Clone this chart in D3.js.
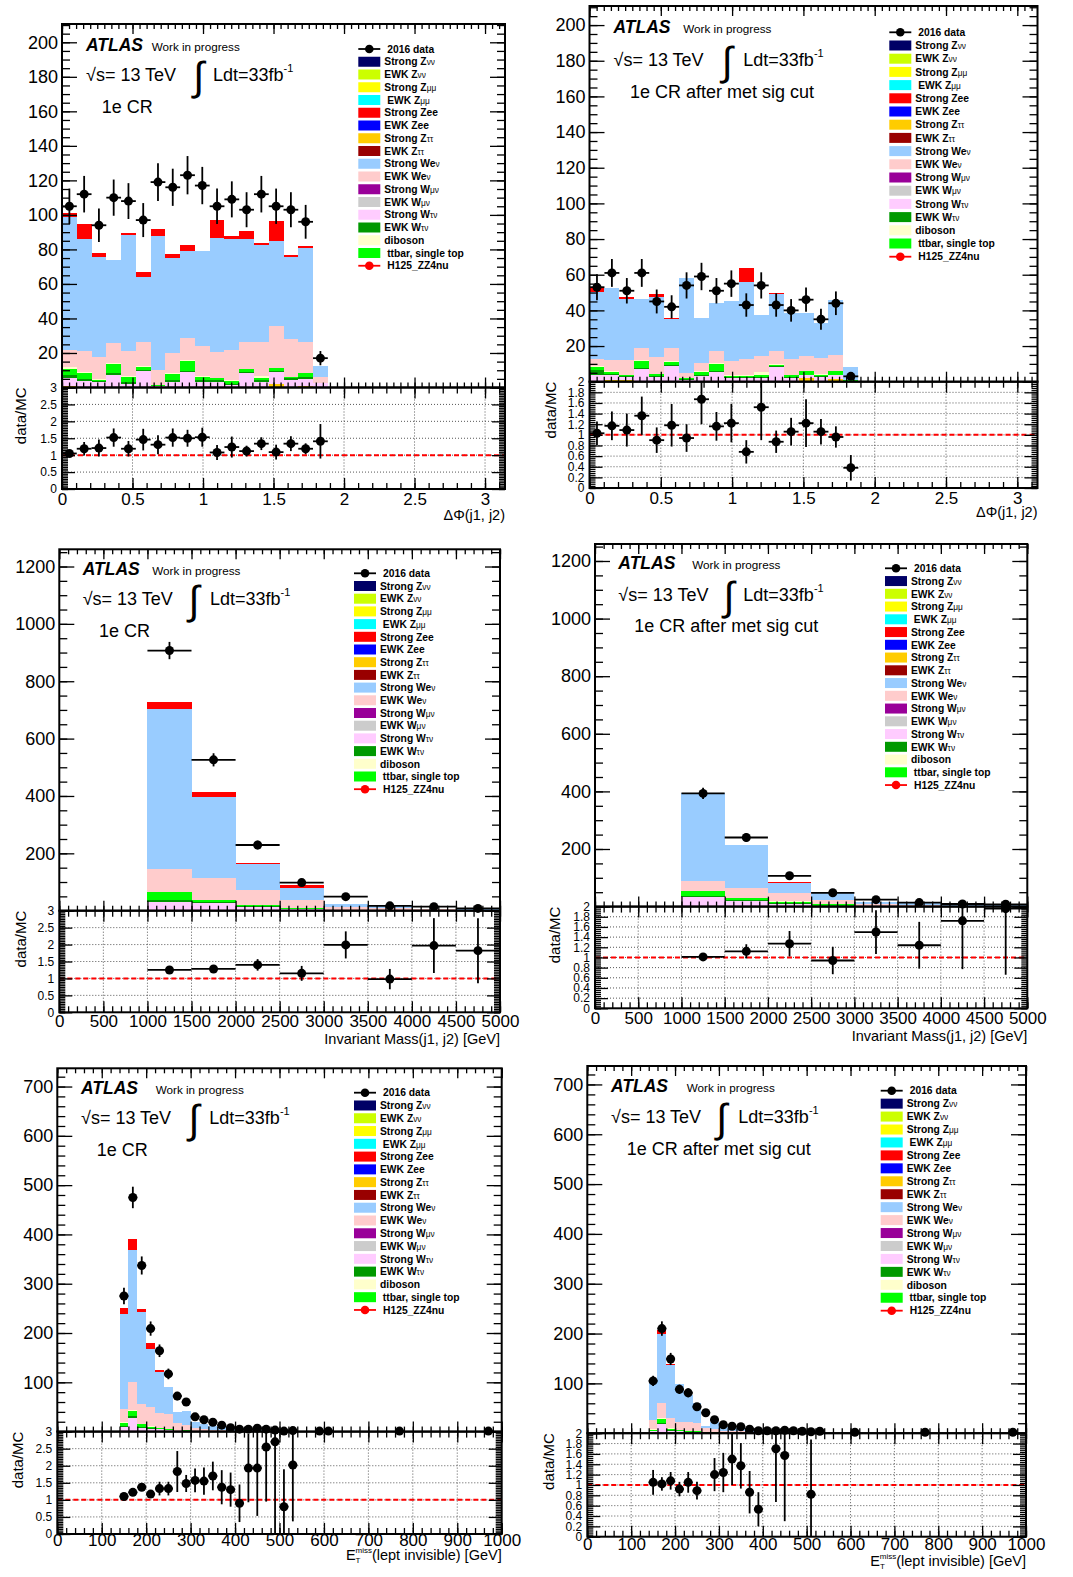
<!DOCTYPE html>
<html><head><meta charset="utf-8">
<script src="https://cdn.jsdelivr.net/npm/d3@7"></script>
<style>
body{margin:0;background:#fff;}
svg text{font-family:"Liberation Sans",Arial,Helvetica,sans-serif;}
</style></head><body>
<svg id="c" width="1073" height="1577"></svg>
<script>
// ---------------- DATA ----------------
const layerKeys = ["zttS","wtvS","wtvE","top","dib","wevE","wevS","zeeS"];
const layerColors = ["#ffcc00","#ffccff","#009900","#00ff00","#ffffcc","#ffcccc","#99ccff","#ff0000"];

const legendNames = [["Strong Z","νν"],["EWK Z","νν"],["Strong Z","μμ"],[" EWK Z","μμ"],["Strong Zee",""],["EWK Zee",""],
  ["Strong Z","ττ"],["EWK Z","ττ"],["Strong We","ν"],["EWK We","ν"],["Strong W","μν"],["EWK W","μν"],
  ["Strong W","τν"],["EWK W","τν"],["diboson",""],[" ttbar, single top",""]];
const legendColors = ["#000066","#ccff00","#ffff00","#00ffff","#ff0000","#0000ff","#ffcc00","#990000",
  "#99ccff","#ffcccc","#990099","#cccccc","#ffccff","#009900","#ffffcc","#00ff00"];

// Panel 1 & 2 : DeltaPhi(j1,j2)
const dphi_bins = [0,0.1047,0.2094,0.3142,0.4189,0.5236,0.6283,0.7330,0.8378,0.9425,1.0472,1.1519,1.2566,1.3614,1.4661,1.5708,1.6755,1.7802];
const dphi_bw = 0.1047;

const p1_zttS = [1,0.5,0.5,0.3,0.3,0.3,0.2,0.3,0.3,0.3,0.3,0.3,0.3,0.3,2,0.3,1,0.2];
const p1_wtvS = [4.5,3.5,2.5,7,2,9.5,0.5,3,8.4,3,3,1,8.2,3,6.9,4,3.8,2.3];
const p1_wtvE = [2,1,0.5,1,1,0.3,0.2,1,1.1,1,1,0.5,0.6,1,0.9,1,1.2,0];
const p1_top  = [3,3.5,1,5.5,3,2,0.3,3.6,5.6,1.6,1,2,1.4,1.2,1.4,0.5,2.3,0.2];
const p1_dib  = [1.5,0.5,0.3,0.5,0.3,0.3,0.2,0.3,0.4,0.5,0.3,0.3,0.5,1.2,0.3,0.3,0.3,0];
const p1_wevE = [10,12,13,11.5,14.5,14,8.6,11.8,13,17.6,15,17.5,15.5,19.8,24.2,22,17.7,3.1];
const p1_wevS = [77,65,58,48,67,37.5,77.8,55,50,55,66,64.5,59.5,56,49.3,47.7,54.4,6.7];
const p1_zeeS = [2,9,2,0,1.5,2.8,3.9,2.4,3.8,0.3,10.5,1.8,4.7,1,11.7,1,1,0];
const p1_data = [105,112,94,110,108,97,119,116,123,117,105,109,103,112,105,103,96,17];
const p1_ratio = [1.05,1.19,1.21,1.52,1.19,1.46,1.31,1.52,1.5,1.53,1.08,1.24,1.12,1.34,1.09,1.34,1.19,1.41];
const p1_rerr  = [0.07,0.2,0.25,0.27,0.23,0.32,0.28,0.27,0.25,0.28,0.22,0.31,0.16,0.19,0.22,0.22,0.16,0.51];

const p2_zttS = [0.5,1,1,0.3,0.3,0.3,0.3,0.5,0.3,0.3,0.5,0.5,0.3,0.5,2,0.5,1.5,0.2];
const p2_wtvS = [3.2,2.5,1.5,6.6,2.2,8.5,0.7,2.5,5,1.5,1.5,1.5,8,1.5,1.5,2,2,0.3];
const p2_wtvE = [2.8,1,0.5,0.6,0.5,0.7,0.5,0.8,0.8,0.6,0.5,0.5,0.5,0.5,0.5,0.5,0.5,0];
const p2_top  = [1.9,1.1,0.7,4.3,1.3,1.7,0.5,1.8,4,1,0.7,1.5,0.8,1,2,1,2,0.2];
const p2_dib  = [0.2,0.2,0.2,0.2,0.2,0.2,0.2,0.2,0.2,0.2,0.3,1.5,0.2,0.2,0.2,0.2,0.2,0];
const p2_wevE = [3.9,6.5,8.1,7,9.5,7.6,2.5,4.5,7,8,9,9,7.5,9,8,9,8.5,0.3];
const p2_wevS = [38,40.4,34.4,27.4,33.7,16.1,53.3,25.2,27,33.9,43.5,23,31.9,25.6,24.1,19.8,31.1,7];
const p2_zeeS = [2.4,0,0.9,0,1.5,0.8,0,0,0,0,8,0,0.7,0,0,0,0,0];
const p2_data = [53,61,51,61,45,42,54,59,51,55,43,54,43,40,46,35,44,3];
const p2_ratio = [1.03,1.17,1.09,1.36,0.9,1.18,0.94,1.67,1.16,1.22,0.68,1.52,0.87,1.06,1.22,1.06,0.96,0.38];
const p2_rerr  = [0.22,0.27,0.31,0.36,0.24,0.4,0.26,0.47,0.27,0.36,0.22,0.62,0.21,0.26,0.45,0.24,0.2,0.24];

// Panel 3 & 4 : Invariant Mass(j1,j2)
const mjj_bins = [0,500,1000,1500,2000,2500,3000,3500,4000,4500];
const mjj_bw = 500;

const p3_zttS = [0,0,4,3,1,0.5,0.2,0,0,0];
const p3_wtvS = [0,0,27,23,13,5.5,1.5,1.5,0.5,0.2];
const p3_wtvE = [0,0,6,3,1,1,0.3,0.3,0,0];
const p3_top  = [0,0,27,8,5,1,0.5,1,0.3,0];
const p3_dib  = [0,0,2,1,1,0.5,0.5,0.5,0,0];
const p3_wevE = [0,0,79,75,51,28.5,11,5,4,2.5];
const p3_wevS = [0,0,557,282,91,43,11,9,2.2,1.6];
const p3_zeeS = [0,0,27,18,3,8,0,0,0,0];
const p3_data = [null,null,907,526,229,98,49,17,14,8];
const p3_ratio = [null,null,1.25,1.28,1.4,1.15,1.99,0.98,1.97,1.82];
const p3_rerr  = [0,0,0.03,0.04,0.17,0.22,0.4,0.3,0.81,0.96];

const p4_zttS = [0,0,2,1,0.5,0.3,0,0,0,0];
const p4_wtvS = [0,0,32,19,9.5,3,1,0.5,0.3,0.3];
const p4_wtvE = [0,0,2,2,1,0.5,0,0,0,0];
const p4_top  = [0,0,18,7,6,4.2,0.5,1,0,0];
const p4_dib  = [0,0,1,1,1,0.3,0,0,0,0];
const p4_wevE = [0,0,34,36,28,14.7,6,3,2.5,2];
const p4_wevS = [0,0,306,148,37,25,8.5,6.5,2.5,1.8];
const p4_zeeS = [0,0,0,0,1,3,0,0,0,0];
const p4_data = [null,null,393,240,107,48,24,14,9,8];
const p4_ratio = [null,null,1.01,1.12,1.27,0.94,1.5,1.24,1.72,1.96];
const p4_rerr  = [0,0,0.05,0.14,0.25,0.27,0.43,0.46,0.95,1.3];

// Panel 5 & 6 : MET (lepton invisible)
const met_bw = 20;
const p5_bins = [140,160,180,200,220,240,260,280,300,320,340,360,380,400,420,440,460,480,500,520,580,600,760,960];
const p5_zttS = [2,2,2,1,1,0.5,0.3,0.2,0.1,0.1,0.1,0.1,0,0,0,0,0,0,0,0,0,0,0,0];
const p5_wtvS = [8,26,6,5,4,2,1,1,0.5,0.3,0.3,0.2,0.2,0.1,0.1,0.1,0,0,0,0,0,0,0,0];
const p5_wtvE = [2,3,1,1,0.5,0.5,0.2,0.2,0.1,0.1,0.1,0.1,0,0,0,0,0,0,0,0,0,0,0,0];
const p5_top  = [6,10,6,3,2,2,0.5,1,0.3,0.3,0.2,0.2,0.2,0.1,0.1,0.1,0.1,0,0,0,0,0,0,0];
const p5_dib  = [1,3,1,0.5,0.5,0.5,0.2,0.2,0.1,0.1,0.1,0.1,0.1,0,0,0,0,0,0,0,0,0,0,0];
const p5_wevE = [27,56,41,38.5,30.5,29.5,15,10.5,6,4,3,2.5,1.5,1.5,0.8,0.8,0.5,0.3,0.3,0.2,0,0,0,0];
const p5_wevS = [192,269,185,118,82.5,55,23,28.5,11.9,10.1,7.2,6.6,4.2,4.2,1.7,2.4,1.5,0.9,0.95,0.8,0,0,0,0];
const p5_zeeS = [12,22,6,12,4,0,0,0,0,0,0,0,0,0,0,0,0,0,0,0,0,0,0,0];
const p5_data = [275,475,337,209,164,117,72,60,30,24,19,13,8,5,5,7,5,3,1,2,1,1,1,1];
const p5_ratio = [1.1,1.22,1.37,1.17,1.33,1.33,1.83,1.48,1.57,1.55,1.7,1.37,1.3,0.9,1.93,1.93,2.55,2.7,0.8,2.02,null,null,null,null];
const p5_rerr  = [0.07,0.07,0.1,0.1,0.2,0.2,0.6,0.25,0.35,0.4,0.42,0.5,0.5,0.55,1.0,1.4,1.6,2.7,1.1,1.65,0,0,0,0];

const p6_bins = [140,160,180,200,220,240,260,280,300,320,340,360,380,400,420,440,460,480,500,520,600,760,960];
const p6_zttS = [1,1,1,0.5,0.5,0.5,0.3,0.2,0.1,0.1,0.1,0.1,0,0,0,0,0,0,0,0,0,0,0];
const p6_wtvS = [3,17,4,3,2,2,1,1,0.5,0.3,0.3,0.2,0.2,0.1,0.1,0.1,0,0,0,0,0,0,0];
const p6_wtvE = [1,2,1,0.5,0.5,0.5,0.2,0.2,0.1,0.1,0.1,0.1,0,0,0,0,0,0,0,0,0,0,0];
const p6_top  = [2,9,3,2,1.5,1.5,0.5,1,0.5,0.3,0.3,0.2,0.2,0.1,0.1,0.1,0.1,0,0.1,0.1,0,0,0];
const p6_dib  = [0.5,1,0.5,0.5,0.5,0.5,0.3,0.3,0.1,0.1,0.1,0.1,0.1,0,0,0,0,0,0,0,0,0,0];
const p6_wevE = [19,30,20.5,16.5,17,15,8,6,4,3,3,2.5,2.5,0.6,0.8,1,0.6,0.5,1,0.4,0,0,0];
const p6_wevS = [73.5,140,106,75,55,40,3.7,13.3,8,5.7,5.6,5.8,6.4,1.2,2,2.8,1.3,1,2.5,1,0,0,0];
const p6_zeeS = [0,7,2,0,0,0,0,0,0,0,0,0,0,0,0,0,0,0,0,0,0,0,0];
const p6_data = [105,210,149,88,81,53,41,27,17,14,13,8,5,5,5,6,5,4,3,4,2,2,2];
const p6_ratio = [1.05,1.02,1.08,0.92,1.05,0.89,null,1.2,1.24,1.5,1.37,0.86,0.53,null,1.7,1.57,null,null,0.82,null,null,null,null];
const p6_rerr  = [0.24,0.13,0.17,0.14,0.2,0.17,0,0.32,0.38,0.5,0.44,0.41,0.33,0,1.03,1.27,0,0,1.06,0,0,0,0];

const mainYLabels13 = [20,40,60,80,100,120,140,160,180,200];
const mainYLabels34 = [200,400,600,800,1000,1200];
const mainYLabels56 = [100,200,300,400,500,600,700];
const ratioLabels3 = [0,0.5,1,1.5,2,2.5,3];
const ratioLabels2 = [0,0.2,0.4,0.6,0.8,1,1.2,1.4,1.6,1.8,2];
const dphiXLabels = [0,0.5,1,1.5,2,2.5,3];
const mjjXLabels = [0,500,1000,1500,2000,2500,3000,3500,4000,4500,5000];
const metXLabels = [0,100,200,300,400,500,600,700,800,900,1000];

// ---------------- DRAWING ----------------
const svg = d3.select("#c");
const FONT = "Liberation Sans, Arial, Helvetica, sans-serif";

function steps(lo, hi, step) {
  const n = Math.floor((hi - lo) / step + 1e-6);
  return d3.range(n + 1).map(i => +(lo + i * step).toFixed(6));
}
const fmt = d3.format("~g");

function axisOn(g, fn, scale, vals, size, tr, labelVals, fs, pad) {
  const a = fn(scale).tickValues(vals).tickSize(-size).tickPadding(pad == null ? 4 : pad)
    .tickFormat(d => (labelVals && labelVals.some(v => Math.abs(v - d) < 1e-9)) ? fmt(d) : "");
  const ag = g.append("g").attr("transform", tr).call(a);
  ag.select(".domain").remove();
  ag.selectAll("line").attr("stroke", "#000").attr("stroke-width", 1.3);
  ag.selectAll("text").attr("font-size", fs || 17).attr("font-family", FONT).attr("fill", "#000");
  return ag;
}

function drawPanel(c) {
  const g = svg.append("g");
  const {L, R, T, M, B} = c;
  const x = d3.scaleLinear().domain(c.xDomain).range([L, R]);
  const y = d3.scaleLinear().domain([0, c.yMax]).range([M, T]);
  const yr = d3.scaleLinear().domain([0, c.rMax]).range([B, M]);

  // stacked MC
  const rows = c.bins.map((b, i) => {
    const o = {lo: b};
    layerKeys.forEach((k, j) => o[k] = c.comps[j][i]);
    return o;
  });
  const series = d3.stack().keys(layerKeys)(rows);
  series.forEach((s, j) => {
    g.append("g").selectAll("rect").data(s.filter(d => d[1] - d[0] > 0)).join("rect")
      .attr("x", d => x(d.data.lo)).attr("width", d => x(d.data.lo + c.bw) - x(d.data.lo))
      .attr("y", d => y(d[1])).attr("height", d => Math.max(0, y(d[0]) - y(d[1])))
      .attr("fill", layerColors[j]).attr("shape-rendering", "crispEdges");
  });

  // ratio grid
  const grid = g.append("g").attr("stroke", "#444").attr("stroke-width", 0.9).attr("stroke-dasharray", "1,2");
  c.xLabels.filter(v => v > c.xDomain[0] && v < c.xDomain[1]).forEach(v =>
    grid.append("line").attr("x1", x(v)).attr("x2", x(v)).attr("y1", M).attr("y2", B));
  c.rLabels.filter(v => v > 0 && v < c.rMax).forEach(v =>
    grid.append("line").attr("x1", L).attr("x2", R).attr("y1", yr(v)).attr("y2", yr(v)));
  g.append("line").attr("x1", L).attr("x2", R).attr("y1", yr(1)).attr("y2", yr(1))
    .attr("stroke", "#ff0000").attr("stroke-width", 2).attr("stroke-dasharray", "5,3");

  // axes: main pad
  const yMaj = steps(0, c.yMax, c.yMajor), yMin = steps(0, c.yMax, c.yMinor);
  const xMaj = steps(c.xDomain[0], c.xDomain[1], c.xMajor);
  const xMinMain = steps(c.xDomain[0], c.xDomain[1], c.xMinorMain);
  const xMinRat = steps(c.xDomain[0], c.xDomain[1], c.xMinorRatio);
  axisOn(g, d3.axisLeft, y, yMin, 8, `translate(${L},0)`);
  axisOn(g, d3.axisLeft, y, yMaj, 15, `translate(${L},0)`, c.yLabels, 18, 4);
  axisOn(g, d3.axisRight, y, yMin, 8, `translate(${R},0)`);
  axisOn(g, d3.axisRight, y, yMaj, 15, `translate(${R},0)`);
  axisOn(g, d3.axisTop, x, xMinMain, 5, `translate(0,${T})`);
  axisOn(g, d3.axisTop, x, xMaj, 10, `translate(0,${T})`);
  axisOn(g, d3.axisBottom, x, xMinMain, 5, `translate(0,${M})`);
  axisOn(g, d3.axisBottom, x, xMaj, 10, `translate(0,${M})`);
  // axes: ratio pad
  const rMaj = steps(0, c.rMax, c.rMajor), rMin = steps(0, c.rMax, c.rMinor);
  axisOn(g, d3.axisLeft, yr, rMin, 6, `translate(${L},0)`);
  axisOn(g, d3.axisLeft, yr, rMaj, 13, `translate(${L},0)`, c.rLabels, 12, 5);
  axisOn(g, d3.axisRight, yr, rMin, 6, `translate(${R},0)`);
  axisOn(g, d3.axisRight, yr, rMaj, 13, `translate(${R},0)`);
  axisOn(g, d3.axisBottom, x, xMinRat, 6, `translate(0,${B})`);
  axisOn(g, d3.axisBottom, x, xMaj, 11, `translate(0,${B})`, c.xLabels, 17, c.xPad);
  axisOn(g, d3.axisTop, x, xMinRat, 6, `translate(0,${M})`);
  axisOn(g, d3.axisTop, x, xMaj, 11, `translate(0,${M})`);

  // frames
  g.append("rect").attr("x", L).attr("y", T).attr("width", R - L).attr("height", M - T)
    .attr("fill", "none").attr("stroke", "#000").attr("stroke-width", 2);
  g.append("rect").attr("x", L).attr("y", M).attr("width", R - L).attr("height", B - M)
    .attr("fill", "none").attr("stroke", "#000").attr("stroke-width", 2);

  // data points (main)
  const dg = g.append("g").attr("stroke", "#000").attr("stroke-width", 1.8);
  c.bins.forEach((b, i) => {
    const v = c.data[i];
    if (v == null || v <= 0) return;
    const e = Math.sqrt(v), xc = b + c.bw / 2;
    dg.append("line").attr("x1", x(b)).attr("x2", x(b + c.bw)).attr("y1", y(v)).attr("y2", y(v));
    dg.append("line").attr("x1", x(xc)).attr("x2", x(xc)).attr("y1", y(v - e)).attr("y2", y(Math.min(v + e, c.yMax)));
    dg.append("circle").attr("cx", x(xc)).attr("cy", y(v)).attr("r", 4.5).attr("fill", "#000").attr("stroke", "none");
  });
  // ratio points
  c.bins.forEach((b, i) => {
    const r = c.ratio[i];
    if (r == null) return;
    const e = c.rerr[i], xc = b + c.bw / 2;
    const lo = Math.max(0, r - e), hi = Math.min(c.rMax, r + e);
    dg.append("line").attr("x1", x(b)).attr("x2", x(b + c.bw)).attr("y1", yr(r)).attr("y2", yr(r));
    dg.append("line").attr("x1", x(xc)).attr("x2", x(xc)).attr("y1", yr(lo)).attr("y2", yr(hi));
    dg.append("circle").attr("cx", x(xc)).attr("cy", yr(r)).attr("r", 4.5).attr("fill", "#000").attr("stroke", "none");
  });

  // texts
  const t = c.txt;
  g.append("text").attr("x", L + t.atlas[0]).attr("y", T + t.atlas[1]).attr("font-size", 17.5)
    .attr("font-weight", "bold").attr("font-style", "italic").text("ATLAS");
  g.append("text").attr("x", L + t.wip).attr("y", T + t.atlas[1]).attr("font-size", 11.7).text("Work in progress");
  g.append("text").attr("x", L + t.atlas[0]).attr("y", T + t.sq).attr("font-size", 18).text("√s= 13 TeV");
  g.append("text").attr("x", L + t.integ).attr("y", T + t.sq + 9).attr("font-size", 40)
    .attr("font-family", "DejaVu Sans").text("∫");
  const lt = g.append("text").attr("x", L + t.ldt).attr("y", T + t.sq).attr("font-size", 18);
  lt.append("tspan").text("Ldt=33fb");
  lt.append("tspan").attr("font-size", 11).attr("dy", -9).text("-1");
  g.append("text").attr("x", L + t.region[0]).attr("y", T + t.region[1]).attr("font-size", 18).text(c.region);

  // legend
  const lx = L + t.leg[0], ly = T + t.leg[1], ld = t.leg[2];
  const lg = g.append("g");
  lg.append("line").attr("x1", lx).attr("x2", lx + 22).attr("y1", ly).attr("y2", ly).attr("stroke", "#000").attr("stroke-width", 1.8);
  lg.append("circle").attr("cx", lx + 11).attr("cy", ly).attr("r", 4.3).attr("fill", "#000");
  lg.append("text").attr("x", lx + 29).attr("y", ly + 3.7).attr("font-size", 10.3).attr("font-weight", "bold").text("2016 data");
  legendNames.forEach((nm, i) => {
    const yy = ly + (i + 1) * ld;
    lg.append("rect").attr("x", lx).attr("y", yy - 5).attr("width", 22).attr("height", 10).attr("fill", legendColors[i]);
    const tx = lg.append("text").attr("x", lx + 26).attr("y", yy + 3.7).attr("font-size", 10.3).attr("font-weight", "bold")
      .attr("xml:space", "preserve");
    tx.append("tspan").text(nm[0]);
    if (nm[1]) tx.append("tspan").attr("font-size", 8.3).attr("font-weight", "normal").text(nm[1]);
  });
  const yh = ly + 17 * ld;
  lg.append("line").attr("x1", lx).attr("x2", lx + 22).attr("y1", yh).attr("y2", yh).attr("stroke", "#ff0000").attr("stroke-width", 1.8);
  lg.append("circle").attr("cx", lx + 11).attr("cy", yh).attr("r", 4.3).attr("fill", "#ff0000");
  lg.append("text").attr("x", lx + 29).attr("y", yh + 3.7).attr("font-size", 10.3).attr("font-weight", "bold").text("H125_ZZ4nu");

  // axis titles
  g.append("text").attr("transform", `translate(${c.dmcX + 5.5},${M}) rotate(-90)`).attr("text-anchor", "end")
    .attr("font-size", 15).text("data/MC");
  const xt = g.append("text").attr("x", R).attr("y", c.xtY).attr("text-anchor", "end").attr("font-size", 14.5);
  c.xTitle(xt);
}

const dphiTitle = t => t.text("ΔΦ(j1, j2)");
const mjjTitle = t => t.text("Invariant Mass(j1, j2) [GeV]");
const metTitle = t => {
  t.append("tspan").text("E");
  t.append("tspan").attr("font-size", 8).attr("dy", 3).text("T");
  t.append("tspan").attr("font-size", 8).attr("dx", -5).attr("dy", -10).text("miss");
  t.append("tspan").attr("dy", 7).text("(lept invisible) [GeV]");
};

drawPanel({L:62, R:505, T:24, M:387.5, B:489, xDomain:[0, Math.PI], yMax:210.6, yMajor:20, yMinor:5, yLabels:mainYLabels13,
  rMax:3, rMajor:0.5, rMinor:0.05, rLabels:ratioLabels3, xMajor:0.5, xMinorMain:0.05, xMinorRatio:0.1, xLabels:dphiXLabels, xPad:4,
  bins:dphi_bins, bw:dphi_bw, comps:[p1_zttS,p1_wtvS,p1_wtvE,p1_top,p1_dib,p1_wevE,p1_wevS,p1_zeeS],
  data:p1_data, ratio:p1_ratio, rerr:p1_rerr, region:"1e CR",
  txt:{atlas:[24,26.7], wip:89.7, sq:57, integ:131, ldt:151, region:[39.7,88.7], leg:[296.3,25,12.75]},
  dmcX:20, xtY:520, xTitle:dphiTitle});

drawPanel({L:589.5, R:1037.5, T:6, M:381.7, B:488, xDomain:[0, Math.PI], yMax:210.7, yMajor:20, yMinor:5, yLabels:mainYLabels13,
  rMax:2, rMajor:0.2, rMinor:0.04, rLabels:ratioLabels2, xMajor:0.5, xMinorMain:0.05, xMinorRatio:0.1, xLabels:dphiXLabels, xPad:4,
  bins:dphi_bins, bw:dphi_bw, comps:[p2_zttS,p2_wtvS,p2_wtvE,p2_top,p2_dib,p2_wevE,p2_wevS,p2_zeeS],
  data:p2_data, ratio:p2_ratio, rerr:p2_rerr, region:"1e CR after met sig cut",
  txt:{atlas:[24,27.3], wip:93.8, sq:60, integ:132, ldt:153.8, region:[40.5,92.3], leg:[299.8,26.3,13.2]},
  dmcX:550, xtY:517, xTitle:dphiTitle});

drawPanel({L:59.3, R:500, T:549.3, M:910.7, B:1012.3, xDomain:[0, 5000], yMax:1260, yMajor:200, yMinor:50, yLabels:mainYLabels34,
  rMax:3, rMajor:0.5, rMinor:0.05, rLabels:ratioLabels3, xMajor:500, xMinorMain:100, xMinorRatio:100, xLabels:mjjXLabels, xPad:3,
  bins:mjj_bins, bw:mjj_bw, comps:[p3_zttS,p3_wtvS,p3_wtvE,p3_top,p3_dib,p3_wevE,p3_wevS,p3_zeeS],
  data:p3_data, ratio:p3_ratio, rerr:p3_rerr, region:"1e CR",
  txt:{atlas:[23.4,25.7], wip:93, sq:55.7, integ:129, ldt:150.7, region:[39.7,87.4], leg:[294.7,24,12.7]},
  dmcX:20, xtY:1044, xTitle:mjjTitle});

drawPanel({L:595, R:1027.3, T:544, M:906.6, B:1008.3, xDomain:[0, 5000], yMax:1259, yMajor:200, yMinor:50, yLabels:mainYLabels34,
  rMax:2, rMajor:0.2, rMinor:0.04, rLabels:ratioLabels2, xMajor:500, xMinorMain:100, xMinorRatio:100, xLabels:mjjXLabels, xPad:3.5,
  bins:mjj_bins, bw:mjj_bw, comps:[p4_zttS,p4_wtvS,p4_wtvE,p4_top,p4_dib,p4_wevE,p4_wevS,p4_zeeS],
  data:p4_data, ratio:p4_ratio, rerr:p4_rerr, region:"1e CR after met sig cut",
  txt:{atlas:[23.3,25.3], wip:97.3, sq:56.7, integ:128.3, ldt:148.3, region:[39.3,87.7], leg:[290,24.3,12.75]},
  dmcX:554, xtY:1041, xTitle:mjjTitle});

drawPanel({L:57.3, R:501.7, T:1068.3, M:1431.6, B:1534, xDomain:[0, 1000], yMax:737, yMajor:100, yMinor:20, yLabels:mainYLabels56,
  rMax:3, rMajor:0.5, rMinor:0.05, rLabels:ratioLabels3, xMajor:100, xMinorMain:20, xMinorRatio:20, xLabels:metXLabels, xPad:0,
  bins:p5_bins, bw:met_bw, comps:[p5_zttS,p5_wtvS,p5_wtvE,p5_top,p5_dib,p5_wevE,p5_wevS,p5_zeeS],
  data:p5_data, ratio:p5_ratio, rerr:p5_rerr, region:"1e CR",
  txt:{atlas:[23.7,26], wip:98.4, sq:56, integ:131, ldt:152, region:[39.4,87.4], leg:[296.7,24.4,12.78]},
  dmcX:17, xtY:1560, xTitle:metTitle});

drawPanel({L:587.3, R:1026, T:1066, M:1433.2, B:1536.7, xDomain:[0, 1000], yMax:737, yMajor:100, yMinor:20, yLabels:mainYLabels56,
  rMax:2, rMajor:0.2, rMinor:0.04, rLabels:ratioLabels2, xMajor:100, xMinorMain:20, xMinorRatio:20, xLabels:metXLabels, xPad:1.5,
  bins:p6_bins, bw:met_bw, comps:[p6_zttS,p6_wtvS,p6_wtvE,p6_top,p6_dib,p6_wevE,p6_wevS,p6_zeeS],
  data:p6_data, ratio:p6_ratio, rerr:p6_rerr, region:"1e CR after met sig cut",
  txt:{atlas:[23.7,26.3], wip:99.4, sq:57.3, integ:128.7, ldt:151, region:[39.4,89], leg:[293.4,24.7,12.94]},
  dmcX:548, xtY:1566, xTitle:metTitle});
</script>
</body></html>
